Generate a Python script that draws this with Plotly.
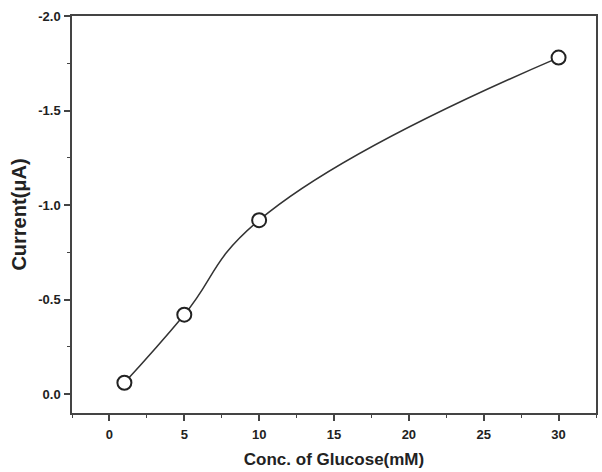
import plotly.graph_objects as go

# Data
glucose_mM = [1, 5, 10, 30]
current_uA = [-0.06, -0.42, -0.92, -1.78]

x_tick_vals = [0, 5, 10, 15, 20, 25, 30]
x_tick_text = ["0", "5", "10", "15", "20", "25", "30"]
y_tick_vals = [0.0, -0.5, -1.0, -1.5, -2.0]
y_tick_text = ["0.0", "-0.5", "-1.0", "-1.5", "-2.0"]

axis_color = "#444444"
text_color = "#222222"
sans = "Liberation Sans, Arial, sans-serif"

fig = go.Figure()
fig.add_trace(go.Scatter(
    x=glucose_mM,
    y=current_uA,
    mode="lines+markers",
    line=dict(color="#333333", width=1.5, shape="spline", smoothing=1.3),
    marker=dict(symbol="circle", size=14, color="white",
                line=dict(color="#222222", width=2)),
    showlegend=False,
))

common_axis = dict(
    showline=True, linecolor=axis_color, linewidth=1.5, mirror=True,
    ticks="outside", ticklen=6, tickwidth=1.5, tickcolor=axis_color,
    showgrid=False, zeroline=False,
    tickfont=dict(family=sans, size=13, color=text_color, weight="bold"),
)

fig.update_xaxes(
    range=[-2.5, 32.5],
    tickvals=x_tick_vals, ticktext=x_tick_text,
    minor=dict(dtick=2.5, tick0=0, ticks="outside", ticklen=3,
               tickwidth=1.2, tickcolor=axis_color),
    title=dict(text="Conc. of Glucose(mM)",
               font=dict(family=sans, size=17, color=text_color, weight="bold"),
               standoff=12),
    ticklabelstandoff=3,
    **common_axis,
)
fig.update_yaxes(
    range=[0.1, -2.0],
    tickvals=y_tick_vals, ticktext=y_tick_text,
    minor=dict(dtick=0.25, tick0=0, ticks="outside", ticklen=3,
               tickwidth=1.2, tickcolor=axis_color),
    title=dict(text="Current(μA)",
               font=dict(family=sans, size=20, color=text_color, weight="bold"),
               standoff=6),
    ticklabelstandoff=1,
    **common_axis,
)

fig.update_layout(
    width=602, height=472,
    margin=dict(l=72, r=4, t=16, b=59),
    paper_bgcolor="white", plot_bgcolor="white",
)

fig.write_html("out.html")
